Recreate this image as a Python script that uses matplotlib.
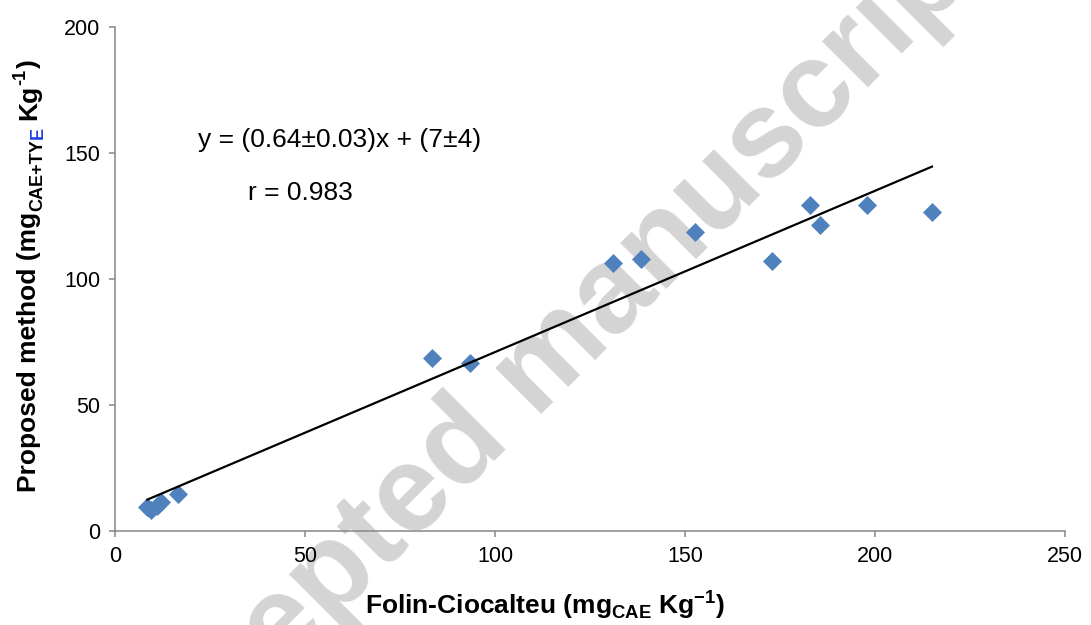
import matplotlib
matplotlib.use("Agg")
import matplotlib.pyplot as plt
from matplotlib import font_manager as fm
import numpy as np

plt.rcParams['font.family'] = ['Liberation Sans', 'DejaVu Sans']
plt.rcParams['mathtext.fontset'] = 'custom'
plt.rcParams['mathtext.rm'] = 'Liberation Sans'
plt.rcParams['mathtext.bf'] = 'Liberation Sans:bold'

# ---- data ----
folin = [8.5, 9.5, 11.0, 12.0, 16.5, 83.5, 93.5, 131.0, 138.5, 152.5, 173.0, 183.0, 185.5, 198.0, 215.0]
proposed = [9.5, 8.5, 10.0, 11.5, 14.5, 68.5, 66.5, 106.5, 108.0, 118.5, 107.0, 129.5, 121.5, 129.5, 126.5]
slope = 0.64
intercept = 7.0
eq_text = "y = (0.64\u00b10.03)x + (7\u00b14)"
r_text = "r = 0.983"
x_ticks = [0, 50, 100, 150, 200, 250]
y_ticks = [0, 50, 100, 150, 200]
watermark = "Accepted manuscript"

W, H = 1091, 625
fig = plt.figure(figsize=(W / 100, H / 100), dpi=100)
ax = fig.add_axes([115 / W, 1 - 531 / H, (1065 - 115) / W, (531 - 27) / H])

grey = '#868686'
for s in ['top', 'right']:
    ax.spines[s].set_visible(False)
for s in ['left', 'bottom']:
    ax.spines[s].set_color(grey)
    ax.spines[s].set_linewidth(1.1)

ax.set_xlim(0, 250)
ax.set_ylim(0, 200)
ax.set_xticks(x_ticks)
ax.set_yticks(y_ticks)
ax.tick_params(axis='both', direction='out', length=4.5, width=1.1, color=grey,
               labelsize=15.5, labelcolor='black')
ax.tick_params(axis='x', pad=6)
ax.tick_params(axis='y', pad=6)

# watermark (behind the data): condensed bold face if available
try:
    fm.findfont(fm.FontProperties(family='Liberation Sans Narrow', weight='bold'),
                fallback_to_default=False)
    wm_family, wm_size = 'Liberation Sans Narrow', 108
except Exception:
    wm_family, wm_size = 'Liberation Sans', 88
ax.text(540 / W, 1 - 370 / H, watermark, transform=fig.transFigure,
        rotation=45, ha='center', va='center', fontsize=wm_size, fontweight='bold',
        family=wm_family, color='#d4d4d4', zorder=0.5, clip_on=False)

# data
ax.plot(folin, proposed, linestyle='none', marker='D', ms=9.5, color='#4F81BD',
        mec='#4F81BD', mew=0.5, zorder=3, clip_on=False)

# trendline from fit coefficients
xl = np.array([min(folin), max(folin)])
ax.plot(xl, slope * xl + intercept, color='black', lw=1.6, zorder=4)

ax.text(21.8, 155, eq_text, fontsize=19, va='center', ha='left')
ax.text(35, 134, r_text, fontsize=19, va='center', ha='left')

# x label
fig.text(545 / W, 1 - 614 / H, r"Folin-Ciocalteu (mg$_{\mathbf{CAE}}$ Kg$^{\mathbf{-1}}$)",
         ha='center', va='baseline', fontsize=19, fontweight='bold')

# y label built from pieces (blue E in subscript)
bx = 36 / W
by = 1 - 492 / H
big, small = 19, 13
t = fig.text(bx, by, "Proposed method (mg", rotation=90, rotation_mode='anchor',
             ha='left', va='baseline', fontsize=big, fontweight='bold')
pieces = [("CAE+TY", small, 'black', 4.5, 0.5),
          ("E", small, '#1F3FE0', 4.5, 0.0),
          ("Kg", big, 'black', 0.0, 5.0),
          ("-1", small, 'black', -8.0, 0.5),
          (")", big, 'black', 0.0, 0.5)]
prev = t
for txt, fs, col, dx, dy in pieces:
    a = ax.annotate(txt, xy=(bx, 1), xycoords=("figure fraction", prev),
                    xytext=(dx, dy), textcoords='offset points',
                    rotation=90, rotation_mode='anchor', ha='left', va='baseline',
                    fontsize=fs, fontweight='bold', color=col, annotation_clip=False)
    prev = a

fig.savefig("out.png", dpi=100)
